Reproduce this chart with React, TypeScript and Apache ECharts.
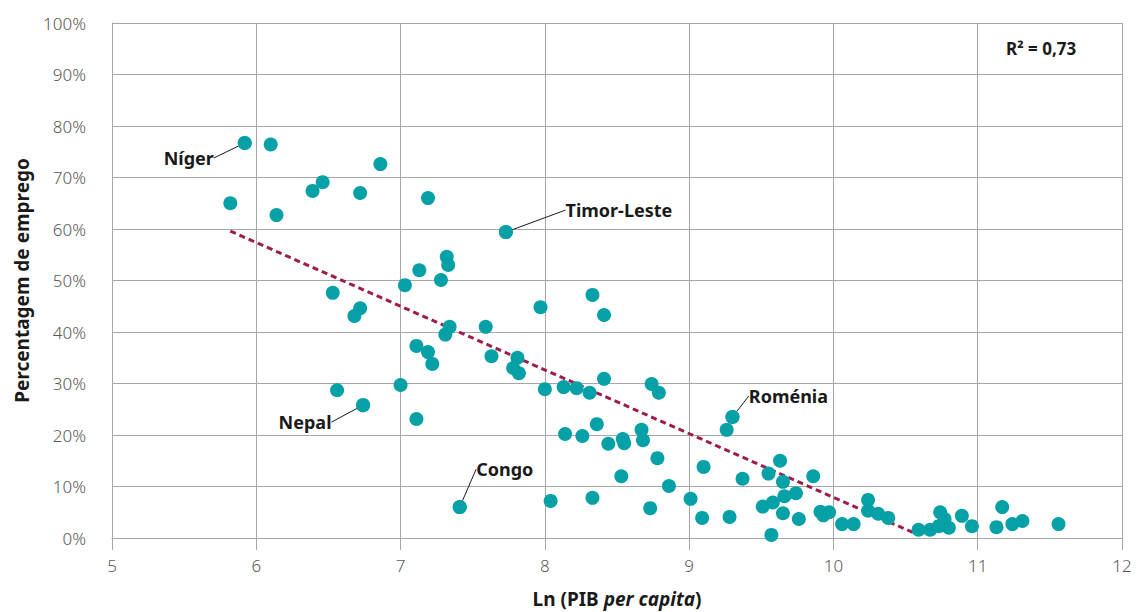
import React, { useEffect, useRef } from "react";
import * as echarts from "echarts";

// Ln(GDP per capita) of each country
const lnGdp = [
  5.82, 5.92, 6.10, 6.14, 6.39, 6.46, 6.72, 6.86, 7.19, 7.73,
  6.53, 6.72, 6.68, 7.03, 7.13, 7.32, 7.33, 7.28, 7.34, 7.31,
  7.11, 7.19, 7.22, 7.00, 6.56, 6.74, 7.11, 7.97, 7.59, 7.63,
  7.81, 7.78, 7.82, 8.33, 8.41, 8.00, 8.13, 8.22, 8.31, 8.41,
  8.74, 8.79, 8.14, 8.26, 8.36, 8.44, 8.54, 8.55, 8.67, 8.68,
  8.78, 8.53, 8.86, 9.10, 7.41, 8.04, 8.33, 8.73, 9.01, 9.09,
  9.28, 9.30, 9.26, 9.37, 9.55, 9.63, 9.65, 9.66, 9.74, 9.86,
  9.51, 9.58, 9.65, 9.76, 9.57, 9.91, 9.93, 9.97, 10.06, 10.14,
  10.24, 10.24, 10.31, 10.38, 10.59, 10.67, 10.74, 10.77, 10.80, 10.73,
  10.89, 10.96, 11.13, 11.17, 11.24, 11.31, 11.56,
];

// Employment percentage of each country
const employment = [
  65.0, 76.7, 76.4, 62.7, 67.4, 69.1, 67.0, 72.6, 66.0, 59.4,
  47.6, 44.6, 43.1, 49.1, 52.0, 54.6, 53.0, 50.1, 41.0, 39.5,
  37.3, 36.1, 33.8, 29.7, 28.7, 25.8, 23.1, 44.8, 41.0, 35.3,
  35.0, 33.0, 32.0, 47.2, 43.3, 28.9, 29.3, 29.1, 28.2, 30.9,
  29.9, 28.2, 20.2, 19.8, 22.1, 18.3, 19.2, 18.4, 21.0, 19.0,
  15.5, 12.0, 10.1, 13.8, 6.0, 7.2, 7.8, 5.8, 7.6, 3.9,
  4.1, 23.5, 21.0, 11.5, 12.5, 15.0, 10.9, 8.1, 8.7, 12.0,
  6.1, 6.9, 4.8, 3.7, 0.6, 5.1, 4.4, 5.0, 2.7, 2.7,
  7.4, 5.3, 4.7, 3.9, 1.6, 1.6, 5.0, 3.7, 2.0, 2.3,
  4.3, 2.3, 2.1, 6.0, 2.7, 3.3, 2.7,
];

// Labelled countries (index into the arrays above)
const labelNames = ["Níger", "Timor-Leste", "Nepal", "Congo", "Roménia"];
const labelIndex = [1, 9, 25, 54, 61];

// Trend line end points
const trendLn = [5.82, 10.59];
const trendEmp = [59.6, 0.6];

const rSquaredText = "R² = 0,73";

const xTicks = { min: 5, max: 12, interval: 1 };
const yTicks = { min: 0, max: 100, interval: 10 };

// label offsets (layout only)
const labelOffsets: Record<string, [number, number]> = {
  "Níger": [-56, 15],
  "Timor-Leste": [113, -22],
  "Nepal": [-58, 17],
  "Congo": [45, -38],
  "Roménia": [56, -21],
};

const FONT = "'Noto Sans', sans-serif";
const GRID = "#a6a6a6";
const TEAL = "#06a0a7";
const TREND = "#9e1b4b";

export default function App() {
  const ref = useRef<HTMLDivElement>(null);

  useEffect(() => {
    if (!ref.current) return;
    const chart = echarts.init(ref.current, undefined, { renderer: "svg" });

    const plain = lnGdp.map((x, i) => [x, employment[i]]);
    const labelled = labelIndex.map((idx, k) => ({
      value: [lnGdp[idx], employment[idx]],
      name: labelNames[k],
    }));

    chart.setOption({
      animation: false,
      textStyle: { fontFamily: FONT },
      grid: {
        left: 112,
        top: 23,
        right: 15,
        bottom: 74,
        containLabel: false,
        outerBoundsMode: "none",
      },
      xAxis: {
        type: "value",
        min: xTicks.min,
        max: xTicks.max,
        interval: xTicks.interval,
        name: "{b|Ln (PIB }{i|per capita}{b|)}",
        nameLocation: "middle",
        nameGap: 51,
        nameTextStyle: {
          rich: {
            b: { fontFamily: FONT, fontSize: 19, fontWeight: "bold", color: "#1a1a1a" },
            i: { fontFamily: FONT, fontSize: 19, fontWeight: "bold", fontStyle: "italic", color: "#1a1a1a" },
          },
        },
        axisLine: { show: true, lineStyle: { color: GRID, width: 1 } },
        axisTick: { show: true, length: 12, lineStyle: { color: GRID, width: 1 } },
        axisLabel: { fontFamily: FONT, fontSize: 17, color: "#595959", margin: 19, fontWeight: 300 },
        splitLine: { show: true, lineStyle: { color: GRID, width: 1 } },
      },
      yAxis: {
        type: "value",
        min: yTicks.min,
        max: yTicks.max,
        interval: yTicks.interval,
        name: "Percentagem de emprego",
        nameLocation: "middle",
        nameGap: 81,
        nameTextStyle: { fontFamily: FONT, fontSize: 19, fontWeight: "bold", color: "#1a1a1a" },
        axisLine: { show: true, lineStyle: { color: GRID, width: 1 } },
        axisTick: { show: false },
        axisLabel: {
          fontFamily: FONT,
          fontSize: 17,
          color: "#595959",
          margin: 26,
          fontWeight: 300,
          formatter: "{value}%",
        },
        splitLine: { show: true, lineStyle: { color: GRID, width: 1 } },
      },
      series: [
        {
          type: "line",
          data: trendLn.map((x, i) => [x, trendEmp[i]]),
          symbol: "none",
          lineStyle: { color: TREND, width: 3, type: [6, 4] },
          z: 3,
          silent: true,
        },
        {
          type: "scatter",
          data: plain,
          symbolSize: 14,
          itemStyle: { color: TEAL, opacity: 1 },
          z: 4,
        },
        {
          type: "scatter",
          data: labelled,
          symbolSize: 14,
          itemStyle: { color: TEAL, opacity: 1 },
          z: 5,
          label: {
            show: true,
            position: "inside",
            formatter: "{b}",
            fontFamily: FONT,
            fontSize: 18,
            fontWeight: "bold",
            color: "#1a1a1a",
          },
          labelLine: { show: true, lineStyle: { color: "#1a1a1a", width: 1 } },
          labelLayout: (params: any) => {
            const off = labelOffsets[params.text] || [0, 0];
            return { dx: off[0], dy: off[1] };
          },
        },
      ],
      graphic: [
        {
          type: "text",
          left: 1006,
          top: 40,
          style: {
            text: rSquaredText,
            fontFamily: FONT,
            fontSize: 17,
            fontWeight: "bold",
            fill: "#1a1a1a",
          },
        },
      ],
    });

    return () => chart.dispose();
  }, []);

  return (
    <div
      ref={ref}
      style={{ position: "absolute", left: 0, top: 0, width: 1137, height: 612 }}
    />
  );
}
